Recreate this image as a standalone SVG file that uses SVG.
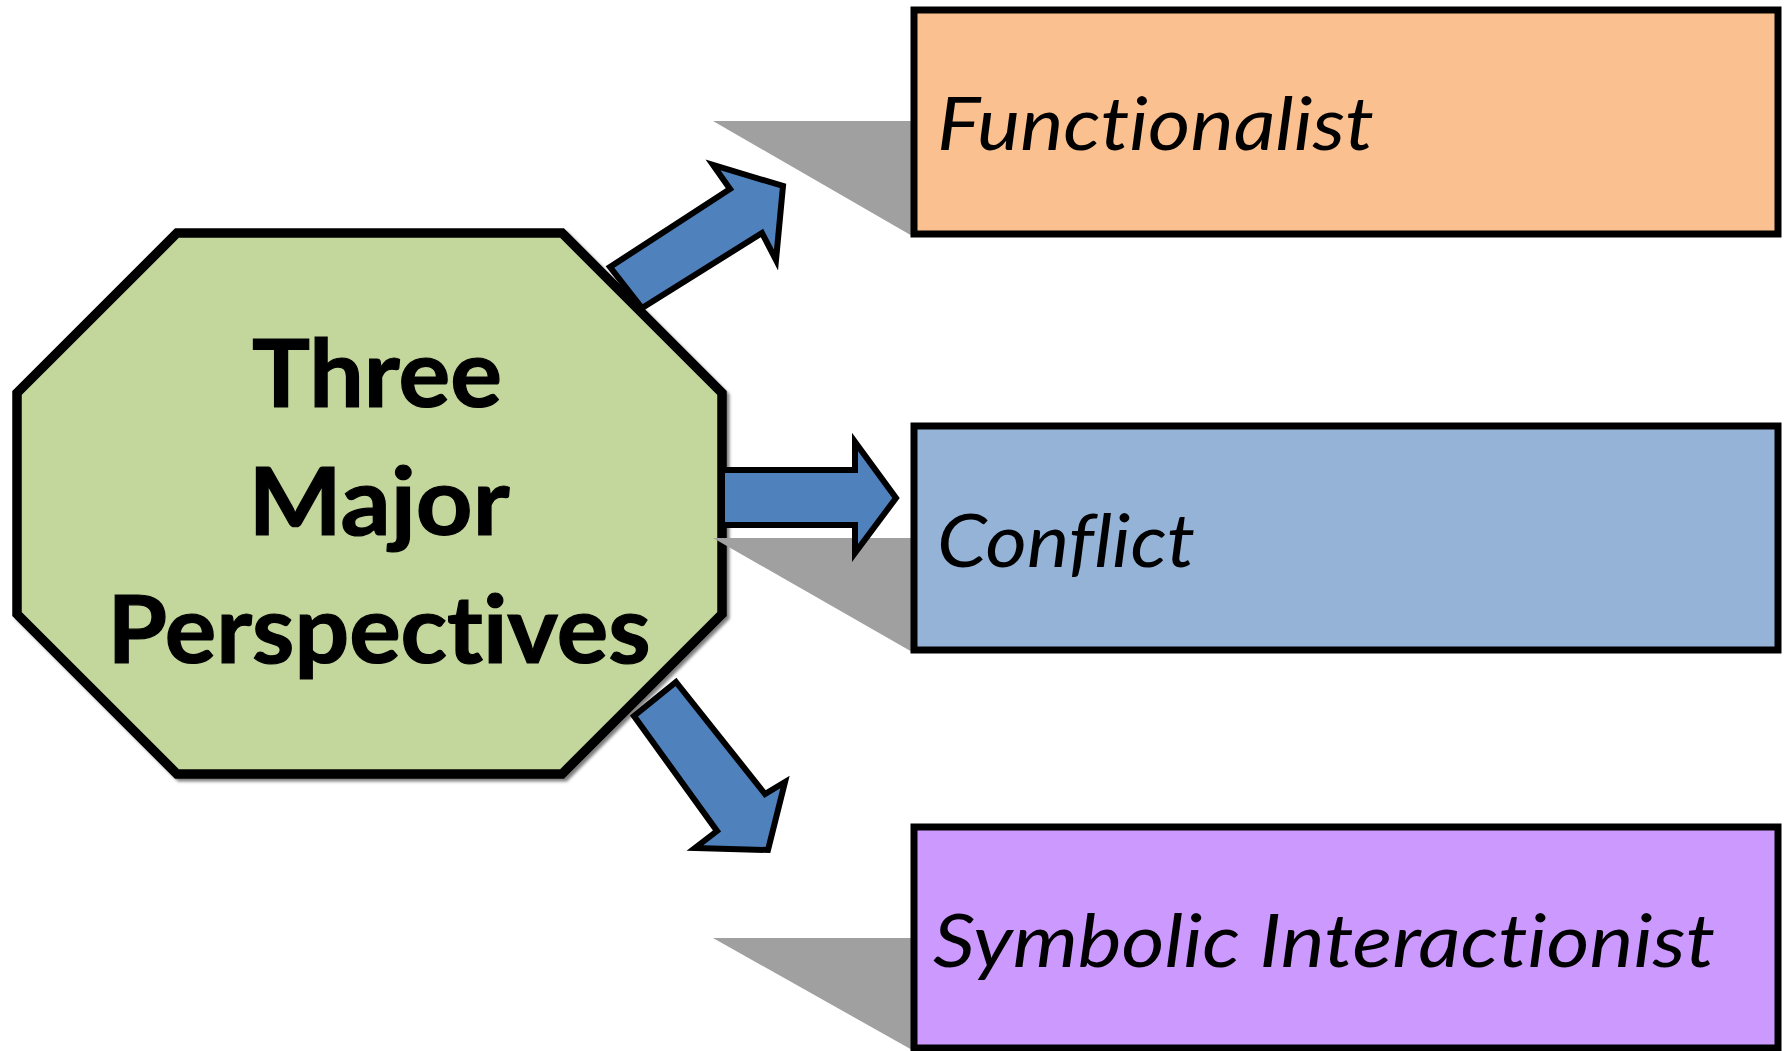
<svg xmlns="http://www.w3.org/2000/svg" width="1788" height="1051" viewBox="0 0 1788 1051">
  <defs>
    <filter id="soft" x="-10%" y="-10%" width="120%" height="120%">
      <feGaussianBlur stdDeviation="1.5"/>
    </filter>
  </defs>
  <style>
    .box { stroke: #000; stroke-width: 7; }
    .shadow { fill: #a0a0a0; stroke: none; }
    .arrow { fill: #4f81bd; stroke: #000; stroke-width: 6; stroke-linejoin: miter; }
    text { font-variant-ligatures: none; font-feature-settings: "liga" 0, "dlig" 0; }
    .boxtext { font-family: Lato, "Open Sans", "Liberation Sans", sans-serif; font-style: italic; font-size: 74px; fill: #000; }
    .hubtext { font-family: Lato, "Open Sans", "Liberation Sans", sans-serif; font-weight: bold; font-size: 94px; fill: #000; text-anchor: middle; stroke: #000; stroke-width: 1.2; }
  </style>
  <rect width="1788" height="1051" fill="#fff"/>

  <g id="hub">
    <polygon points="180,236 565,236 725,396 725,617 565,777 180,777 20,617 20,396" fill="none" stroke="#808080" stroke-width="9" filter="url(#soft)"/>
    <polygon points="177,233 562,233 722,393 722,614 562,774 177,774 17,614 17,393" fill="#c3d69b" stroke="#000" stroke-width="9.5" stroke-linejoin="miter"/>
    <text class="hubtext" x="377" y="407" textLength="250" lengthAdjust="spacingAndGlyphs">Three</text>
    <text class="hubtext" x="379" y="535" textLength="261" lengthAdjust="spacingAndGlyphs">Major</text>
    <text class="hubtext" x="379" y="663" textLength="543" lengthAdjust="spacingAndGlyphs">Perspectives</text>
  </g>

  <g id="shadows">
    <polygon class="shadow" points="713,121 914,121 914,237"/>
    <polygon class="shadow" points="713,538 914,538 914,653"/>
    <polygon class="shadow" points="713,938 914,938 914,1051"/>
  </g>

  <g id="connectors">
    <polygon class="arrow" points="610,267 730,189 713,165 783,186 776,260 762,233 642,308"/>
    <polygon class="arrow" points="722,470 855,470 855,442 896,498 855,553 855,525 722,525"/>
    <polygon class="arrow" points="676,682 765,794 785,782 768,850 695,848 717,831 634,716"/>
  </g>

  <g id="functionalist">
    <rect class="box" x="914" y="10" width="864" height="224" fill="#fac090"/>
    <text class="boxtext" x="937" y="150" textLength="437" lengthAdjust="spacingAndGlyphs">Functionalist</text>
  </g>

  <g id="conflict">
    <rect class="box" x="914" y="426" width="864" height="224" fill="#95b3d7"/>
    <text class="boxtext" x="937" y="567" textLength="258" lengthAdjust="spacingAndGlyphs">Conflict</text>
  </g>

  <g id="symbolic">
    <rect class="box" x="914" y="827" width="864" height="221" fill="#cc99ff"/>
    <text class="boxtext" x="933" y="967" textLength="782" lengthAdjust="spacingAndGlyphs">Symbolic Interactionist</text>
  </g>
</svg>
